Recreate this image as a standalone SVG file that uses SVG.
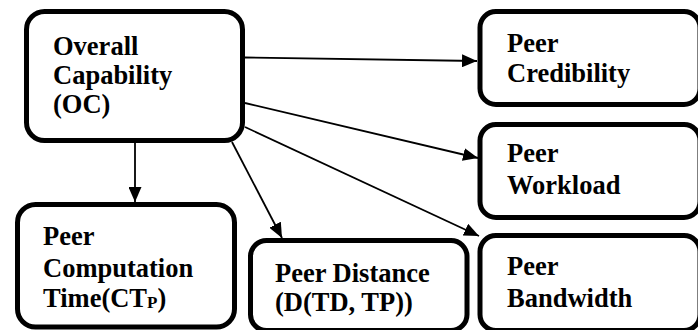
<svg xmlns="http://www.w3.org/2000/svg" width="698" height="330" viewBox="0 0 698 330">
  <style>
    .box { fill: #ffffff; stroke: #000000; stroke-width: 5; }
    .label { font-family: 'Liberation Serif', 'Times New Roman', serif; font-weight: bold; font-size: 26.5px; fill: #000000; }
    .sub { font-size: 17px; }
    .edge { stroke: #000000; stroke-width: 1.8; fill: none; marker-end: url(#arrow); }
  </style>
  <defs>
    <marker id="arrow" markerUnits="userSpaceOnUse" markerWidth="15" markerHeight="13" refX="15" refY="6.5" orient="auto">
      <path d="M0,0 L15,6.5 L0,13 Z" fill="#000000"/>
    </marker>
  </defs>
  <rect width="698" height="330" fill="#ffffff"/>

  <!-- arrows leaving the Overall Capability box -->
  <g id="connectors">
    <line class="edge" x1="245" y1="57.5" x2="477" y2="61"/>
    <line class="edge" x1="245" y1="103" x2="478" y2="158"/>
    <line class="edge" x1="245" y1="127" x2="479" y2="236"/>
    <line class="edge" x1="232" y1="142" x2="282" y2="238"/>
    <line class="edge" x1="135" y1="143" x2="135" y2="202"/>
  </g>

  <g id="overall-capability">
    <rect class="box" x="26.5" y="11.5" width="216" height="129" rx="18"/>
    <text class="label" x="53" y="55">Overall</text>
    <text class="label" x="53" y="84">Capability</text>
    <text class="label" x="53" y="113">(OC)</text>
  </g>

  <g id="peer-credibility">
    <rect class="box" x="480" y="11.5" width="220" height="93" rx="16"/>
    <text class="label" x="507" y="52">Peer</text>
    <text class="label" x="507" y="82">Credibility</text>
  </g>

  <g id="peer-workload">
    <rect class="box" x="480" y="124.5" width="220" height="93" rx="16"/>
    <text class="label" x="507" y="162">Peer</text>
    <text class="label" x="507" y="193.5">Workload</text>
  </g>

  <g id="peer-bandwidth">
    <rect class="box" x="480" y="235.5" width="220" height="95" rx="16"/>
    <text class="label" x="507" y="275">Peer</text>
    <text class="label" x="507" y="306.5">Bandwidth</text>
  </g>

  <g id="peer-computation-time">
    <rect class="box" x="17.5" y="204.5" width="217" height="122.5" rx="18"/>
    <text class="label" x="43" y="245">Peer</text>
    <text class="label" x="43" y="276.5">Computation</text>
    <text class="label" x="43" y="306.5">Time(CT<tspan class="sub" dy="1">P</tspan><tspan dy="-1">)</tspan></text>
  </g>

  <g id="peer-distance">
    <rect class="box" x="250.5" y="240.5" width="216.5" height="90" rx="16"/>
    <text class="label" x="275" y="281.5">Peer Distance</text>
    <text class="label" x="275" y="311">(D(TD, TP))</text>
  </g>
</svg>
